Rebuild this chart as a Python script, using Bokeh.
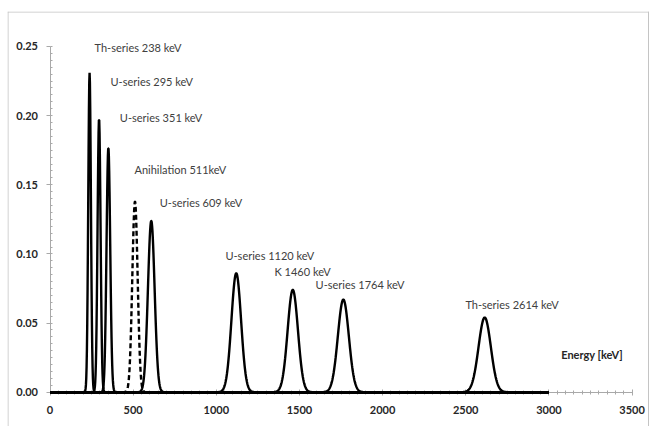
import numpy as np
from bokeh.plotting import figure
from bokeh.models import (ColumnDataSource, Range1d, SingleIntervalTicker,
                          NumeralTickFormatter, LabelSet, Label, Span)
from bokeh.core.properties import value
from bokeh.embed import file_html
from bokeh.resources import INLINE

# Gamma lines of the natural background spectrum
energies = [238, 295, 351, 511, 609, 1120, 1460, 1764, 2614]          # keV
heights = [0.231, 0.198, 0.177, 0.138, 0.124, 0.086, 0.074, 0.067, 0.054]
sigmas = [8, 9, 11, 16, 20, 29, 31, 33, 37]                            # keV
dashed = [False, False, False, True, False, False, False, False, False]

label_texts = ["Th-series 238 keV", "U-series 295 keV", "U-series 351 keV",
               "Anihilation 511keV", "U-series 609 keV", "U-series 1120 keV",
               "K 1460 keV", "U-series 1764 keV", "Th-series 2614 keV"]
label_x = [268, 364, 420, 508, 660, 1055, 1350, 1597, 2498]
label_y = [0.2492, 0.2247, 0.1988, 0.1608, 0.1374, 0.0988, 0.0873, 0.0777, 0.0632]

x_ticks_interval = 500
y_ticks_interval = 0.05

# visible window (the frame fills the bordered chart area)
X0, X1 = -255.6, 3605.0
Y0, Y1 = -0.0248, 0.2753

p = figure(width=649, height=426,
           x_range=Range1d(X0, X1), y_range=Range1d(Y0, Y1),
           output_backend="svg", toolbar_location=None,
           min_border_left=7, min_border_top=11,
           min_border_right=0, min_border_bottom=0,
           background_fill_color="white", border_fill_color="white")
p.outline_line_color = None
p.xgrid.visible = False
p.ygrid.visible = False

energy_grid = np.arange(0, 3001, 2)

# dashed annihilation line first, solid lines drawn on top of it
order = [i for i in range(len(energies)) if dashed[i]] + \
        [i for i in range(len(energies)) if not dashed[i]]
for i in order:
    counts = heights[i] * np.exp(-0.5 * ((energy_grid - energies[i]) / sigmas[i]) ** 2)
    src = ColumnDataSource(dict(x=energy_grid, y=counts))
    p.line("x", "y", source=src, line_color="black", line_width=2.4,
           line_dash="5 3" if dashed[i] else "solid")

# axes sit at zero inside the frame, underneath the spectrum lines
axis_grey = "#a9a9a9"
xa = p.xaxis[0]
xa.level = "underlay"
xa.fixed_location = 0
xa.bounds = (0, 3500)
xa.ticker = SingleIntervalTicker(interval=x_ticks_interval, num_minor_ticks=10)
xa.formatter = NumeralTickFormatter(format="0")
xa.axis_line_color = axis_grey
xa.major_tick_line_color = axis_grey
xa.minor_tick_line_color = axis_grey
xa.major_tick_in = 3
xa.major_tick_out = 3
xa.minor_tick_in = 2
xa.minor_tick_out = 2
xa.major_label_standoff = 11
xa.major_label_text_font = "Lato"
xa.major_label_text_font_style = "bold"
xa.major_label_text_font_size = "11px"
xa.major_label_text_color = "#262626"

ya = p.yaxis[0]
ya.level = "underlay"
ya.fixed_location = 0
ya.bounds = (0, 0.25)
ya.ticker = SingleIntervalTicker(interval=y_ticks_interval, num_minor_ticks=10)
ya.formatter = NumeralTickFormatter(format="0.00")
ya.axis_line_color = axis_grey
ya.major_tick_line_color = axis_grey
ya.minor_tick_line_color = axis_grey
ya.major_tick_in = 0
ya.major_tick_out = 4
ya.minor_tick_in = 2
ya.minor_tick_out = 0
ya.major_label_standoff = 8
ya.major_label_text_font = "Lato"
ya.major_label_text_font_style = "bold"
ya.major_label_text_font_size = "11px"
ya.major_label_text_color = "#262626"

labels = LabelSet(x="x", y="y", text="text",
                  source=ColumnDataSource(dict(x=label_x, y=label_y, text=label_texts)),
                  text_font=value("Lato"), text_font_size=value("11px"),
                  text_color="#404040",
                  text_align="left", text_baseline="middle")
p.add_layout(labels)

p.add_layout(Label(x=3074, y=0.0273, text="Energy [keV]", text_font="Lato",
                   text_font_size="11px", text_font_style="bold",
                   text_color="#262626", text_align="left", text_baseline="middle"))

# chart border (left, top, right)
px_x = (X1 - X0) / 642.0
px_y = (Y1 - Y0) / 415.0
border = "#c4c4c4"
p.add_layout(Span(location=X0 + 0.5 * px_x, dimension="height", line_color=border, line_width=1))
p.add_layout(Span(location=X1 - 1.0 * px_x, dimension="height", line_color=border, line_width=1))
p.add_layout(Span(location=Y1 - 0.5 * px_y, dimension="width", line_color=border, line_width=1))

open("out.html", "w").write(file_html(p, INLINE))
